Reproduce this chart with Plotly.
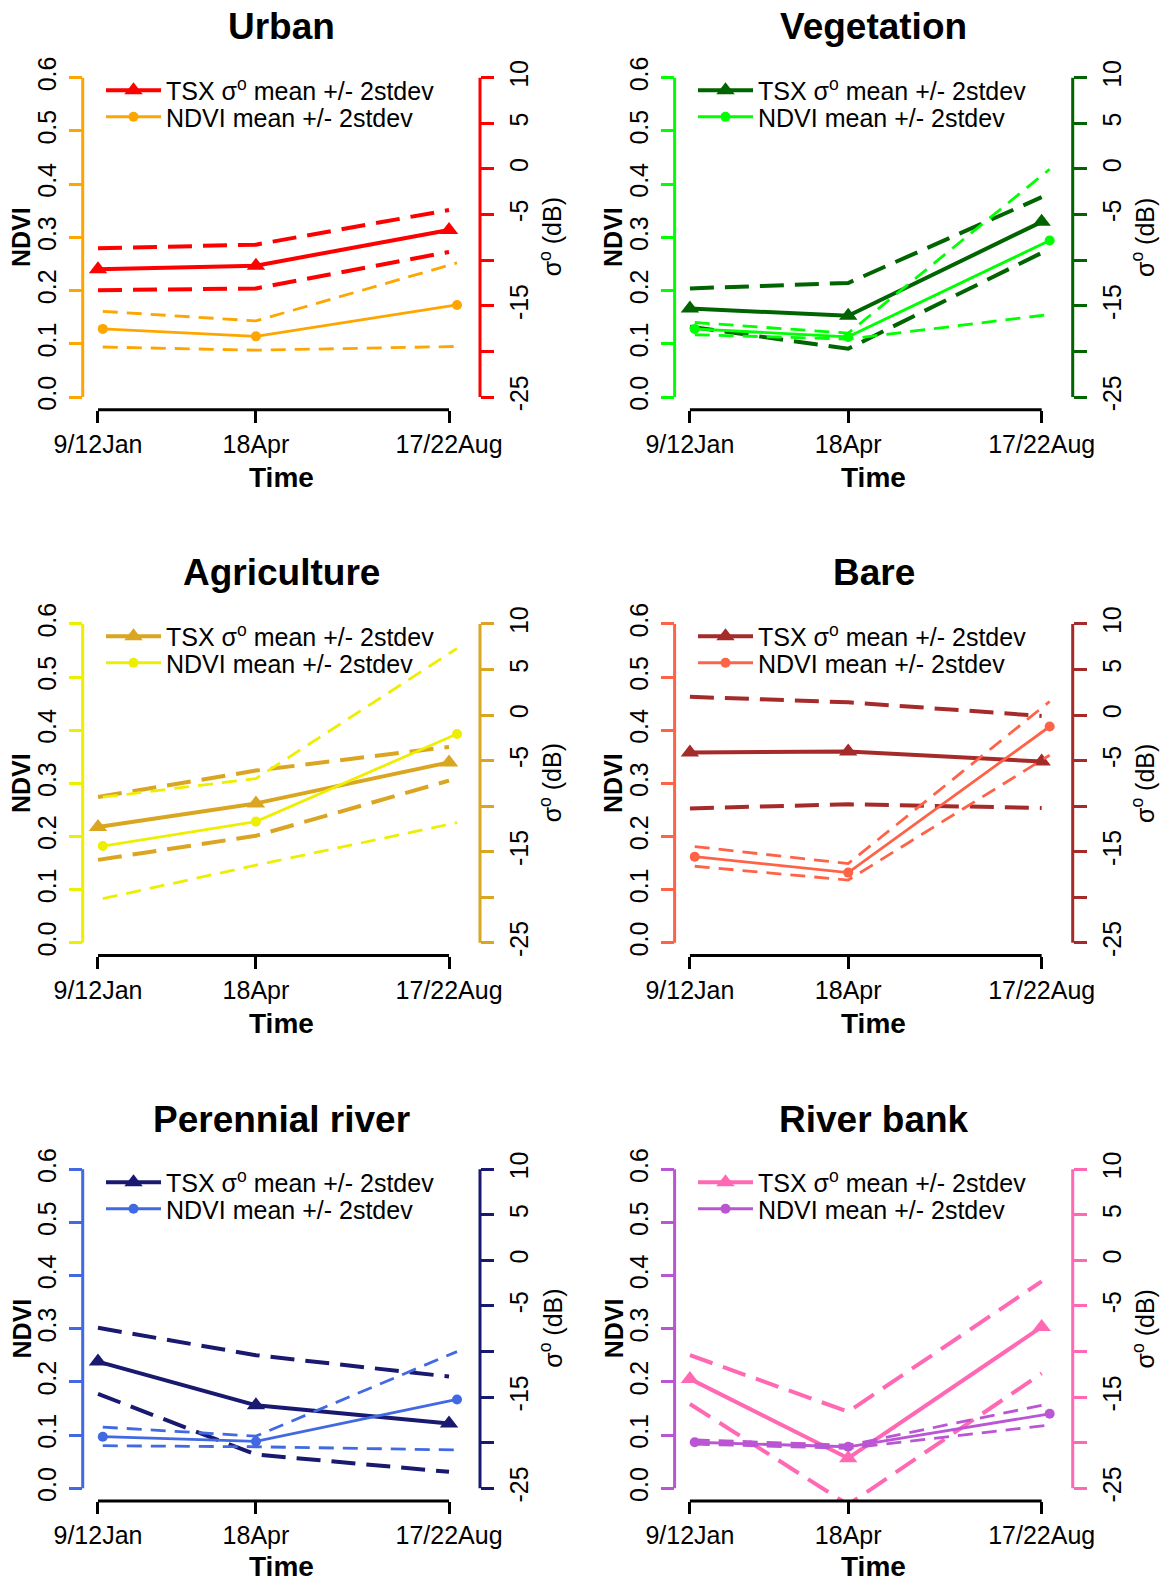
import plotly.graph_objects as go

# ---------------- data ----------------
classes = ["Urban", "Vegetation", "Agriculture", "Bare", "Perennial river", "River bank"]

dates_tsx = ["2011-01-09", "2011-04-18", "2011-08-17"]
dates_ndvi = ["2011-01-12", "2011-04-18", "2011-08-22"]
time_labels = ["9/12Jan", "18Apr", "17/22Aug"]

ndvi_ticks = [0.0, 0.1, 0.2, 0.3, 0.4, 0.5, 0.6]
ndvi_ticktext = ["0.0", "0.1", "0.2", "0.3", "0.4", "0.5", "0.6"]
db_ticks = [-25, -15, -5, 0, 5, 10]          # labelled ticks
db_ticktext = ["-25", "-15", "-5", "0", "5", "10"]
db_unlabelled = [-20, -10]                   # ticks whose labels R dropped

tsx_mean = {
    "Urban": [-11.0, -10.6, -6.7],
    "Vegetation": [-15.3, -16.1, -5.8],
    "Agriculture": [-12.3, -9.7, -5.2],
    "Bare": [-4.1, -4.0, -5.1],
    "Perennial river": [-11.1, -15.9, -17.9],
    "River bank": [-13.0, -21.7, -7.3],
}
tsx_upper = {
    "Urban": [-8.7, -8.3, -4.5],
    "Vegetation": [-13.1, -12.5, -3.1],
    "Agriculture": [-9.0, -6.1, -3.5],
    "Bare": [2.0, 1.4, -0.1],
    "Perennial river": [-7.4, -10.4, -12.75],
    "River bank": [-10.4, -16.6, -2.3],
}
tsx_lower = {
    "Urban": [-13.3, -13.1, -9.1],
    "Vegetation": [-17.3, -19.7, -9.2],
    "Agriculture": [-15.9, -13.25, -7.2],
    "Bare": [-10.25, -9.8, -10.2],
    "Perennial river": [-14.65, -21.3, -23.2],
    "River bank": [-15.75, -26.8, -12.4],
}
ndvi_mean = {
    "Urban": [0.128, 0.114, 0.173],
    "Vegetation": [0.128, 0.113, 0.294],
    "Agriculture": [0.182, 0.228, 0.393],
    "Bare": [0.162, 0.132, 0.407],
    "Perennial river": [0.097, 0.088, 0.167],
    "River bank": [0.0865, 0.078, 0.140],
}
ndvi_upper = {
    "Urban": [0.161, 0.143, 0.252],
    "Vegetation": [0.140, 0.120, 0.428],
    "Agriculture": [0.274, 0.309, 0.554],
    "Bare": [0.181, 0.149, 0.454],
    "Perennial river": [0.115, 0.098, 0.257],
    "River bank": [0.091, 0.081, 0.159],
}
ndvi_lower = {
    "Urban": [0.094, 0.088, 0.095],
    "Vegetation": [0.117, 0.109, 0.155],
    "Agriculture": [0.083, 0.146, 0.226],
    "Bare": [0.144, 0.118, 0.353],
    "Perennial river": [0.080, 0.078, 0.072],
    "River bank": [0.083, 0.075, 0.119],
}

tsx_color = {
    "Urban": "#FF0000", "Vegetation": "#006400", "Agriculture": "#DAA520",
    "Bare": "#A52A2A", "Perennial river": "#191970", "River bank": "#FF69B4",
}
ndvi_color = {
    "Urban": "#FFA500", "Vegetation": "#00FF00", "Agriculture": "#EEEE00",
    "Bare": "#FF6347", "Perennial river": "#4169E1", "River bank": "#BA55D3",
}

# ---------------- layout geometry (pixels) ----------------
W, H = 1164, 1580
col_px = [(82.7, 480.0), (674.6, 1072.7)]
row_px = [(64.9, 409.8), (611.2, 955.5), (1156.5, 1501.0)]  # top, bottom
title_y = [27, 573, 1119]
time_y = [477, 1023, 1566]
x_range = ["2010-12-30 10:00", "2011-09-05 10:00"]
ndvi_range = [-0.024, 0.624]
db_range = [-26.4, 11.4]

FONT = "Liberation Sans, Arial, sans-serif"
TICK_SIZE = 25

fig = go.Figure()
layout = dict(
    width=W, height=H, margin=dict(l=0, r=0, t=0, b=0, autoexpand=False),
    paper_bgcolor="white", plot_bgcolor="rgba(0,0,0,0)",
    font=dict(family=FONT, color="black", size=TICK_SIZE),
    shapes=[], annotations=[],
)


def axname(kind, n):
    return f"{kind}axis" if n == 1 else f"{kind}axis{n}"


def axref(kind, n):
    return kind if n == 1 else f"{kind}{n}"


for i, cls in enumerate(classes):
    r, c = divmod(i, 2)
    x0, x1 = col_px[c]
    top, bot = row_px[r]
    xd = [x0 / W, x1 / W]
    yd = [1 - bot / H, 1 - top / H]
    nx = i + 1
    nt = 2 * i + 1   # TSX axis (right)
    nn = 2 * i + 2   # NDVI axis (left)
    xr, ytr, ynr = axref("x", nx), axref("y", nt), axref("y", nn)
    tc, nc = tsx_color[cls], ndvi_color[cls]
    leg_t = f"legend{2 * i + 1}" if i > 0 else "legend"
    leg_n = f"legend{2 * i + 2}"

    layout[axname("x", nx)] = dict(
        domain=xd, anchor=ytr, type="date", range=x_range, automargin=False,
        tickmode="array", tickvals=dates_tsx, ticktext=time_labels, ticks="outside",
        ticklen=12, tickwidth=3, tickcolor="black", showline=False,
        showgrid=False, zeroline=False, tickfont=dict(size=TICK_SIZE, color="black"),
        ticklabelstandoff=0,
    )
    layout[axname("y", nt)] = dict(
        domain=yd, anchor=xr, side="right", range=db_range, automargin=False,
        tickmode="array", tickvals=db_ticks, ticktext=db_ticktext, ticks="outside",
        ticklen=13, tickwidth=3, tickcolor=tc, tickangle=-90,
        minor=dict(tickmode="array", tickvals=db_unlabelled, ticks="outside",
                   ticklen=13, tickwidth=3, tickcolor=tc, showgrid=False),
        showgrid=False, zeroline=False, showline=False,
        tickfont=dict(size=TICK_SIZE, color="black"), ticklabelstandoff=4,
    )
    layout[axname("y", nn)] = dict(
        domain=yd, anchor=xr, side="left", overlaying=ytr, range=ndvi_range,
        automargin=False,
        tickmode="array", tickvals=ndvi_ticks, ticktext=ndvi_ticktext, ticks="outside",
        ticklen=13, tickwidth=3, tickcolor=nc, tickangle=-90,
        showgrid=False, zeroline=False, showline=False,
        tickfont=dict(size=TICK_SIZE, color="black"), ticklabelstandoff=3,
    )

    # axis lines spanning only the tick range (R style)
    layout["shapes"] += [
        dict(type="line", xref=xr, yref=f"{ytr} domain", x0=dates_tsx[0], x1=dates_tsx[-1],
             y0=0, y1=0, line=dict(color="black", width=3)),
        dict(type="line", xref=f"{xr} domain", yref=ynr, x0=0, x1=0,
             y0=ndvi_ticks[0], y1=ndvi_ticks[-1], line=dict(color=nc, width=3)),
        dict(type="line", xref=f"{xr} domain", yref=ytr, x0=1, x1=1,
             y0=min(db_ticks + db_unlabelled), y1=max(db_ticks), line=dict(color=tc, width=3)),
    ]

    # TSX traces
    for arr in (tsx_upper, tsx_lower):
        fig.add_trace(go.Scatter(
            x=dates_tsx, y=arr[cls], mode="lines", xaxis=xr, yaxis=ytr,
            line=dict(color=tc, width=4, dash="24px,11px"), showlegend=False,
            hoverinfo="skip"))
    fig.add_trace(go.Scatter(
        x=dates_tsx, y=tsx_mean[cls], mode="lines+markers", xaxis=xr, yaxis=ytr,
        line=dict(color=tc, width=4), marker=dict(symbol="triangle-up", size=16, color=tc),
        name="TSX σ<sup>o</sup> mean +/- 2stdev", legend=leg_t, showlegend=True))

    # NDVI traces
    for arr in (ndvi_upper, ndvi_lower):
        fig.add_trace(go.Scatter(
            x=dates_ndvi, y=arr[cls], mode="lines", xaxis=xr, yaxis=ynr,
            line=dict(color=nc, width=2.8, dash="15px,9px"), showlegend=False,
            hoverinfo="skip"))
    fig.add_trace(go.Scatter(
        x=dates_ndvi, y=ndvi_mean[cls], mode="lines+markers", xaxis=xr, yaxis=ynr,
        line=dict(color=nc, width=2.8), marker=dict(symbol="circle", size=10, color=nc),
        name="NDVI mean +/- 2stdev", legend=leg_n, showlegend=True))

    dy = r * 546
    for leg, yrow in ((leg_t, 90.5), (leg_n, 117.0)):
        layout[leg] = dict(
            x=(169 - 68) / W + c * 592 / W, y=1 - (yrow + dy) / H,
            xanchor="left", yanchor="middle", itemwidth=55,
            bgcolor="rgba(0,0,0,0)", font=dict(size=TICK_SIZE, color="black", family=FONT),
        )

    xc = (x0 + x1) / 2
    yc = (top + bot) / 2
    layout["annotations"] += [
        dict(text=f"<b>{cls}</b>", x=xc / W, y=1 - title_y[r] / H, xref="paper", yref="paper",
             xanchor="center", yanchor="middle", showarrow=False,
             font=dict(size=37, color="black", family=FONT)),
        dict(text="<b>Time</b>", x=xc / W, y=1 - time_y[r] / H, xref="paper", yref="paper",
             xanchor="center", yanchor="middle", showarrow=False,
             font=dict(size=28, color="black", family=FONT)),
        dict(text="<b>NDVI</b>", x=(x0 - 61) / W, y=1 - yc / H, xref="paper", yref="paper",
             xanchor="center", yanchor="middle", showarrow=False, textangle=-90,
             font=dict(size=25, color="black", family=FONT)),
        dict(text="σ<sup>o</sup> (dB)", x=(x1 + 71) / W, y=1 - yc / H, xref="paper", yref="paper",
             xanchor="center", yanchor="middle", showarrow=False, textangle=-90,
             font=dict(size=25, color="black", family=FONT)),
    ]

fig.update_layout(**layout)
fig.write_html("out.html", config={"displayModeBar": False},
               post_script="document.body.style.margin='0px';")
